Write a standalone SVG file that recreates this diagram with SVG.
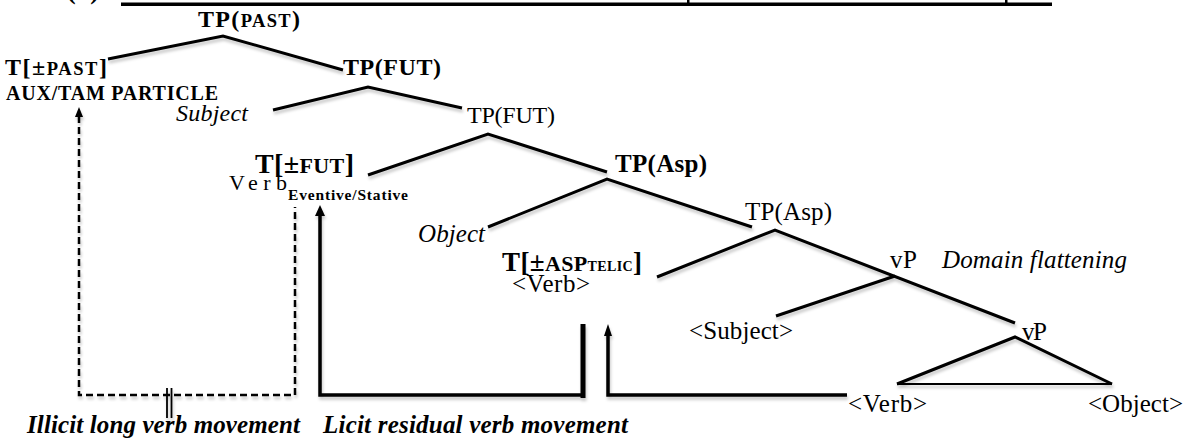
<svg xmlns="http://www.w3.org/2000/svg" width="1186" height="441" viewBox="0 0 1186 441">
  <style>
    text { font-family: 'Liberation Serif', 'Times New Roman', serif; fill: #000; }
    .b { font-weight: bold; }
    .i { font-style: italic; }
    .bi { font-weight: bold; font-style: italic; }
    .edge { fill: none; stroke: #000; stroke-width: 3; stroke-linejoin: miter; stroke-linecap: butt; }
    .thin { fill: none; stroke: #000; stroke-width: 2; }
    .dash { fill: none; stroke: #000; stroke-width: 2.5; stroke-dasharray: 7 4; }
    .move { fill: none; stroke: #000; stroke-width: 3.5; }
  </style>
  <defs>
    <filter id="shade" x="-5%" y="-20%" width="110%" height="160%">
      <feDropShadow dx="1" dy="3" stdDeviation="1.5" flood-color="#000" flood-opacity="0.22"/>
    </filter>
  </defs>

  <rect width="1186" height="441" fill="#fff"/>

  <!-- heading rule and example number (clipped at the top edge) -->
  <g id="heading">
    <text class="b" x="67" y="-1" font-size="26" textLength="32">( )</text>
    <rect x="121" y="2.5" width="931" height="3.5" fill="#000"/>
    <rect x="687" y="0" width="2.5" height="3" fill="#000"/>
    <rect x="1005" y="0" width="2.5" height="3" fill="#000"/>
  </g>

  <!-- tree branches and movement paths -->
  <g id="connectors">
    <g filter="url(#shade)">
      <polyline class="edge" points="108,59 223,36 343,70"/>
      <polyline class="edge" points="273,110 368,87 462,108"/>
      <polyline class="edge" points="368,175 488,134 607,172"/>
      <polyline class="edge" points="488,227 607,179 752,227"/>
      <polyline class="edge" points="657,277 775,230 1015,323"/>
      <line class="edge" x1="895" y1="276" x2="776" y2="316"/>
      <polyline class="edge" points="897,384 1015,337 1112,384"/>
      <line class="thin" x1="897" y1="384" x2="1112" y2="384"/>
    </g>

    <!-- illicit long movement (dashed, blocked) -->
    <g filter="url(#shade)">
      <path class="dash" d="M79,116 V395 H295 V207"/>
      <polygon points="79,107 75,117 83,117" fill="#000"/>
      <line x1="167" y1="388" x2="167" y2="418" stroke="#000" stroke-width="1.8"/>
      <line x1="171.5" y1="388" x2="171.5" y2="418" stroke="#000" stroke-width="1.8"/>
    </g>

    <!-- licit residual movement (solid) -->
    <g filter="url(#shade)">
      <path class="move" d="M583,395 H320 V214"/>
      <polygon points="320,205 315,216 325,216" fill="#000"/>
      <rect x="580.5" y="324" width="5" height="74" fill="#000"/>
      <path class="move" d="M847,395 H608 V334"/>
      <polygon points="608,324 604,336 612,336" fill="#000"/>
    </g>
  </g>

  <g id="tp-past">
    <text class="b" x="198" y="27" font-size="24" textLength="102">TP(<tspan font-size="18.5">PAST</tspan>)</text>
  </g>

  <g id="t-past">
    <text class="b" x="5" y="75" font-size="24" textLength="102">T[±<tspan font-size="18.5">PAST</tspan>]</text>
    <text class="b" x="6" y="100" font-size="20" textLength="212">AUX/TAM PARTICLE</text>
  </g>

  <g id="tp-fut-top">
    <text class="b" x="343" y="75" font-size="24" textLength="98">TP(FUT)</text>
  </g>

  <g id="subject">
    <text class="i" x="176" y="121" font-size="24" textLength="72">Subject</text>
  </g>

  <g id="tp-fut">
    <text x="467" y="123" font-size="24" textLength="88">TP(FUT)</text>
  </g>

  <g id="t-fut">
    <text class="b" x="255" y="173" font-size="28" textLength="99">T[±<tspan font-size="22">FUT</tspan>]</text>
    <text x="229" y="190" font-size="22" textLength="58">Verb</text>
    <text class="b" x="288" y="200" font-size="15.5" textLength="120">Eventive/Stative</text>
  </g>

  <g id="tp-asp-top">
    <text class="b" x="615" y="172" font-size="25" textLength="92">TP(Asp)</text>
  </g>

  <g id="object">
    <text class="i" x="418" y="242" font-size="25" textLength="67">Object</text>
  </g>

  <g id="tp-asp">
    <text x="745" y="220" font-size="25" textLength="87">TP(Asp)</text>
  </g>

  <g id="t-asp">
    <text class="b" x="502" y="271" font-size="27" textLength="140">T[±<tspan font-size="22">ASP</tspan><tspan font-size="14">TELIC</tspan>]</text>
    <text x="512" y="292" font-size="25" textLength="78">&lt;Verb&gt;</text>
  </g>

  <g id="vp-top">
    <text x="890" y="268" font-size="25" textLength="27">vP</text>
    <text class="i" x="942" y="268" font-size="25" textLength="185">Domain flattening</text>
  </g>

  <g id="subject-copy">
    <text x="689" y="339" font-size="25" textLength="104">&lt;Subject&gt;</text>
  </g>

  <g id="vp-low">
    <text x="1022" y="340" font-size="25" textLength="25">vP</text>
  </g>

  <g id="verb-copy">
    <text x="848" y="412" font-size="25" textLength="79">&lt;Verb&gt;</text>
  </g>

  <g id="object-copy">
    <text x="1088" y="412" font-size="25" textLength="95">&lt;Object&gt;</text>
  </g>

  <g id="legend">
    <text class="bi" x="27" y="433" font-size="25" textLength="273">Illicit long verb movement</text>
    <text class="bi" x="323" y="433" font-size="25" textLength="305">Licit residual verb movement</text>
  </g>
</svg>
